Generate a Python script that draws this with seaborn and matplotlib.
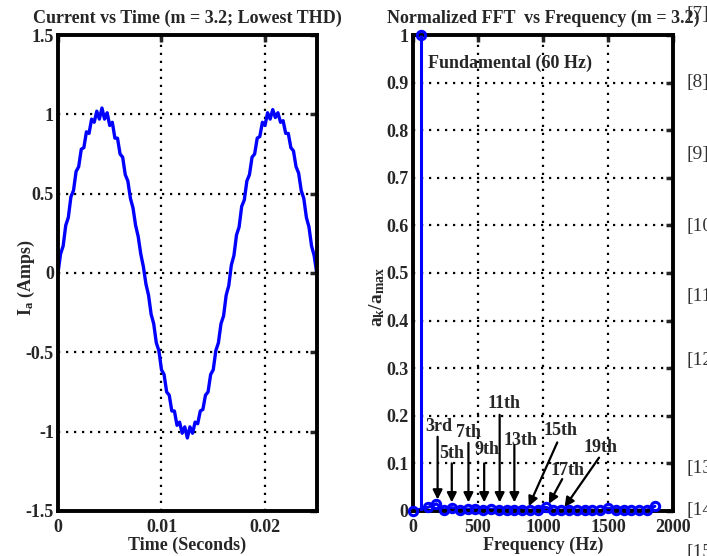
import numpy as np
import pandas as pd
import matplotlib
matplotlib.use("Agg")
import matplotlib.pyplot as plt
import seaborn as sns

t_step = 0.00025
current = [0.00, 0.12, 0.17, 0.30, 0.35, 0.48, 0.52, 0.64, 0.67, 0.78,
           0.79, 0.89, 0.88, 0.97, 0.95, 1.02, 0.97, 1.04, 0.97, 1.01,
           0.93, 0.95, 0.85, 0.85, 0.75, 0.73, 0.62, 0.58, 0.47, 0.41,
           0.30, 0.23, 0.12, 0.04, -0.07, -0.14, -0.26, -0.32, -0.44, -0.49,
           -0.61, -0.64, -0.75, -0.77, -0.87, -0.87, -0.96, -0.94, -1.01, -0.97,
           -1.04, -0.97, -1.01, -0.94, -0.95, -0.87, -0.86, -0.77, -0.75, -0.64,
           -0.61, -0.49, -0.44, -0.32, -0.27, -0.14, -0.08, 0.05, 0.11, 0.24,
           0.29, 0.42, 0.46, 0.58, 0.62, 0.73, 0.75, 0.85, 0.86, 0.95,
           0.93, 1.01, 0.97, 1.03, 0.98, 1.01, 0.95, 0.96, 0.88, 0.88,
           0.79, 0.77, 0.67, 0.63, 0.52, 0.47, 0.35, 0.29, 0.17, 0.11, 0.00]
time = np.arange(len(current)) * t_step

# normalized FFT at multiples of 60 Hz
freq = [0, 60, 120, 180, 240, 300, 360, 420, 480, 540, 600, 660, 720, 780,
        840, 900, 960, 1020, 1080, 1140, 1200, 1260, 1320, 1380, 1440, 1500,
        1560, 1620, 1680, 1740, 1800, 1860]
amp = [0.0, 1.0, 0.008, 0.015, 0.002, 0.007, 0.003, 0.004, 0.005, 0.003,
       0.004, 0.003, 0.003, 0.003, 0.003, 0.002, 0.003, 0.008, 0.002, 0.002,
       0.003, 0.002, 0.003, 0.002, 0.001, 0.006, 0.003, 0.003, 0.002, 0.002,
       0.002, 0.010]

harm_labels = ["3rd", "5th", "7th", "9th", "11th", "13th", "15th", "17th", "19th"]
# (text x, text y, arrow tail x, tail y, tip x, tip y)
harm_arrows = [(203, 0.178, 190, 0.156, 190, 0.024),
               (299, 0.121, 299, 0.100, 299, 0.018),
               (424, 0.165, 427, 0.143, 427, 0.018),
               (569, 0.130, 548, 0.100, 548, 0.018),
               (698, 0.226, 667, 0.202, 667, 0.018),
               (826, 0.149, 780, 0.138, 780, 0.018),
               (1135, 0.170, 1110, 0.144, 891, 0.010),
               (1191, 0.084, 1148, 0.067, 1045, 0.015),
               (1444, 0.133, 1431, 0.112, 1166, 0.008)]

refs = [("[7]", 15), ("[8]", 83), ("[9]", 155), ("[10", 227), ("[11", 297),
        ("[12", 360), ("[13", 468), ("[14", 511), ("[15", 553)]

sns.set_style("white")
plt.rcParams["font.family"] = ["Liberation Serif", "DejaVu Serif"]
plt.rcParams["font.weight"] = "bold"
plt.rcParams["mathtext.fontset"] = "custom"
plt.rcParams["mathtext.bf"] = "Liberation Serif:bold"
plt.rcParams["mathtext.rm"] = "Liberation Serif:bold"
plt.rcParams["mathtext.it"] = "Liberation Serif:bold"

FS = 13

fig = plt.figure(figsize=(7.07, 5.56), dpi=100)
ax1 = fig.add_axes([0.082, 0.081, 0.366, 0.856])
ax2 = fig.add_axes([0.584, 0.081, 0.368, 0.856])

grid_kw = dict(color="black", linestyle=(0, (1, 2.6)), linewidth=1.6)

def style(ax):
    for s in ax.spines.values():
        s.set_linewidth(2.8)
        s.set_color("black")
    ax.tick_params(direction="in", length=5, width=2.5, labelsize=FS,
                   top=True, right=True)
    ax.tick_params(axis="x", pad=6)
    ax.tick_params(axis="y", pad=3)
    for lab in ax.get_xticklabels() + ax.get_yticklabels():
        lab.set_fontweight("bold")
    ax.grid(True, **grid_kw)
    ax.set_axisbelow(True)

# left: current vs time
df_i = pd.DataFrame({"t": time, "i": current})
sns.lineplot(data=df_i, x="t", y="i", ax=ax1, color="blue", linewidth=2.4,
             sort=False, estimator=None)
ax1.set_xlim(0, 0.025)
ax1.set_ylim(-1.5, 1.5)
ax1.set_xticks([0, 0.01, 0.02])
ax1.set_xticklabels(["0", "0.01", "0.02"])
ax1.set_yticks([-1.5, -1, -0.5, 0, 0.5, 1, 1.5])
ax1.set_yticklabels(["-1.5", "-1", "-0.5", "0", "0.5", "1", "1.5"])
style(ax1)
ax1.set_title("Current vs Time (m = 3.2; Lowest THD)", fontsize=FS,
              fontweight="bold", pad=9)
ax1.set_xlabel("Time (Seconds)", fontsize=FS, fontweight="bold", labelpad=0)
ax1.set_ylabel(r"$\mathbf{I_a}$ (Amps)", fontsize=FS, fontweight="bold")
ax1.yaxis.set_label_coords(-0.08, 0.49)

# right: normalized FFT
df_f = pd.DataFrame({"f": freq, "a": amp})
rest = df_f[df_f["a"] < 0.5]
sns.lineplot(data=rest, x="f", y="a", ax=ax2, color="blue", linewidth=2.2,
             sort=False, estimator=None)
fund = df_f[df_f["a"] >= 0.5]
ax2.vlines(fund["f"], 0, fund["a"], color="blue", linewidth=2.2, zorder=3)
ax2.plot(df_f["f"], df_f["a"], linestyle="none", marker="o", markersize=6,
         markerfacecolor="none", markeredgecolor="blue", markeredgewidth=2.2,
         clip_on=False, zorder=4)
ax2.set_xlim(0, 2000)
ax2.set_ylim(0, 1)
ax2.set_xticks([0, 500, 1000, 1500, 2000])
ax2.set_yticks(np.round(np.arange(0, 1.01, 0.1), 1))
ax2.set_yticklabels(["0", "0.1", "0.2", "0.3", "0.4", "0.5", "0.6", "0.7",
                     "0.8", "0.9", "1"])
style(ax2)
ax2.set_title("Normalized FFT  vs Frequency (m = 3.2)", fontsize=FS,
              fontweight="bold", pad=9)
ax2.set_xlabel("Frequency (Hz)", fontsize=FS, fontweight="bold", labelpad=0)
ax2.set_ylabel(r"$\mathbf{a_k/a_{max}}$", fontsize=14)
ax2.yaxis.set_label_coords(-0.10, 0.45)

ax2.text(116, 0.941, "Fundamental (60 Hz)", fontsize=FS, fontweight="bold",
         va="center", ha="left")
for lab, (tx, ty, ax_, ay_, px, py) in zip(harm_labels, harm_arrows):
    ax2.text(tx, ty, lab, fontsize=FS, fontweight="bold", ha="center",
             va="center")
    ax2.annotate("", xy=(px, py), xytext=(ax_, ay_),
                 arrowprops=dict(arrowstyle="-|>", color="black", lw=1.6,
                                 mutation_scale=14, shrinkA=0, shrinkB=0))

for txt, ypx in refs:
    fig.text(687 / 707, 1 - ypx / 556, txt, fontsize=14, fontweight="normal",
             color="#333333", ha="left", va="center",
             family=["Liberation Serif", "DejaVu Serif"])

fig.savefig("out.png", dpi=100)
